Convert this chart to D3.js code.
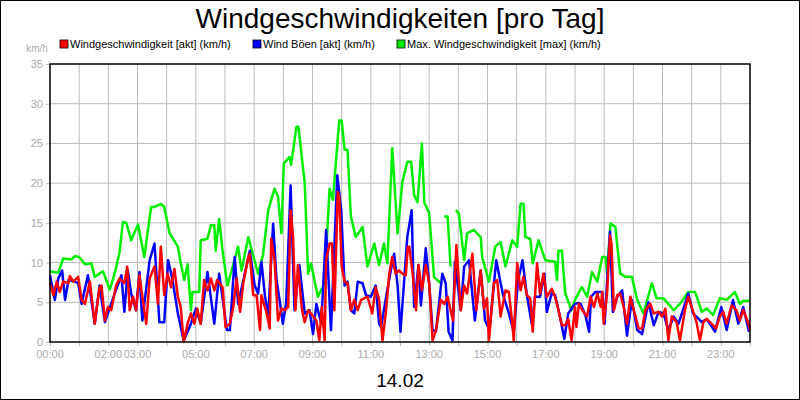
<!DOCTYPE html>
<html>
<head>
<meta charset="utf-8">
<script src="https://cdn.jsdelivr.net/npm/d3@7"></script>
<style>
  body { margin: 0; background: #fff; }
  svg { font-family: "Liberation Sans", Arial, sans-serif; }
</style>
</head>
<body>
<div id="chart"></div>
<script>
// minutes of day + km/h
var greenMin = [0,17,27,44,51,60,72,85,92,109,123,133,143,150,157,167,181,194,208,215,228,235,246,263,269,276,283,290,293,307,310,324,331,338,341,348,355,365,387,394,408,428,438,449,462,469,476,481,493,496,507,511,524,531,537,551,565,575,582,595,600,606,612,619,629,643,653,667,677,687,694,704,715,725,735,743,749,756,765,770,780,790,804,810,811,818,824,830,835,841,852,858,872,886,889,903,916,927,937,951,961,968,974,978,988,993,1005,1019,1039,1043,1046,1053,1060,1073,1080,1094,1105,1115,1126,1136,1143,1146,1153,1163,1173,1184,1197,1208,1221,1238,1248,1262,1272,1283,1296,1313,1327,1341,1351,1364,1378,1392,1409,1419,1426,1440];
var greenVal = [8.9,8.7,10.5,10.4,10.8,10.7,9.8,9.9,8.2,8.9,6.6,8.6,11.3,15.1,15,12.8,14.8,10.7,17,17,17.4,17,13.7,12,9.9,7.8,9.8,4,6.3,6.3,12.8,13,14.7,14.7,11.5,15.5,11.5,7.1,12,9,13.2,8.6,10.9,16.6,19.3,18.3,13.7,22.5,23.3,22.3,27.1,27.1,20,8.6,9.9,5.7,7.4,19.3,17.9,27.9,27.9,24.2,24.2,15.8,13.2,14.5,9.5,12.4,9.7,12.4,9.9,24.4,13.7,20.2,22.7,22.7,18.5,17.6,25,17.6,16.2,8.2,7.4,null,15.8,15.8,9.5,null,16.6,16.2,10.3,13.7,14.1,13.2,10.7,7.6,12,12.6,9.5,12.8,12,17.4,17.4,13.2,13,9.9,12.8,10.3,10.1,7.8,11.5,11.5,6.1,4,5.3,6.9,5.7,8.8,7.6,10.7,10.7,8.6,14.9,14.5,8.6,8.2,8.2,5.3,3.6,7.4,5.5,5.5,4.8,4,4.8,6.3,6.3,3.8,4.2,3.4,5.5,5.3,6.3,4.8,5.2,5.2];

var blueMin = [0,10,17,25,31,38,51,58,65,78,92,102,113,133,147,153,160,167,177,184,190,205,215,225,235,243,252,263,275,290,300,310,324,338,348,364,370,380,387,398,411,421,428,435,442,449,459,466,473,479,486,495,503,513,524,534,541,548,558,568,578,591,599,606,612,619,626,633,643,650,660,670,677,681,691,701,708,715,721,735,744,749,758,763,773,780,787,794,807,814,820,828,833,845,852,862,874,886,895,904,918,927,933,944,954,963,972,981,991,998,1008,1017,1022,1032,1039,1049,1058,1066,1080,1087,1092,1102,1109,1113,1122,1136,1141,1152,1158,1167,1177,1187,1197,1208,1218,1231,1242,1252,1262,1272,1283,1293,1313,1323,1341,1351,1368,1381,1392,1405,1416,1426,1438];
var blueVal = [8.4,5.3,8,9,5.3,7.8,7.6,7.4,4.8,8.4,2.3,7.1,2.5,6.1,8.4,3.8,9,6.1,4,8.8,2.7,10.3,12.4,2.5,2.5,10.3,7.8,3.6,0.2,2.3,4.2,2.3,8.8,2.3,8.6,1.5,1.5,10.7,4.8,7.8,11.5,7.1,6.1,10.1,5.9,3.2,14.9,7.8,5,2.3,5,19.7,4,9.7,3.6,4,1,4.8,2.3,14.1,1.5,21,16.6,7.1,7.6,4,3.6,7.6,7.4,5.9,5.7,7.1,2.3,1.9,5.5,9,11.1,7.1,1.3,13.2,16.6,4.4,9.7,4.6,11.8,7.4,1.5,1.3,8.6,7.4,1.3,0.2,10.1,4,9.5,10.3,2.7,9,2.7,1.5,10.3,7.4,5.7,3.6,1.3,7.8,10.3,5.9,2.3,5.7,5.7,8.6,3.8,6.1,5.9,3.2,0.4,3.6,4.8,4.9,4.8,3.2,1.3,5.7,6.3,6.3,2.3,13.9,3.8,5.7,6.5,0.8,5.3,1.5,1,5,2.1,3.8,3.6,1.5,3.2,2.3,6.1,3.6,2.5,2.9,1.3,4.4,1.5,5.3,2.3,4.4,1.3];

var redMin = [0,7,14,20,27,38,41,48,58,65,72,82,92,102,106,113,119,126,136,143,153,159,164,171,177,184,191,198,205,215,222,228,235,242,249,256,263,269,275,283,290,297,303,310,317,324,331,338,344,355,361,370,377,384,391,398,408,411,418,425,432,435,445,452,455,462,469,476,483,490,495,500,505,510,518,524,531,537,548,554,559,565,568,575,580,585,592,595,600,606,612,619,626,633,640,646,653,663,670,677,684,691,698,704,711,718,725,736,732,739,746,753,758,765,773,780,787,794,804,811,818,824,829,836,845,852,858,869,877,886,893,899,903,913,920,927,937,944,951,954,961,968,974,981,988,993,1002,1008,1015,1022,1032,1039,1046,1053,1060,1066,1073,1080,1083,1088,1095,1105,1112,1119,1126,1133,1136,1139,1146,1152,1155,1160,1167,1173,1180,1187,1194,1201,1211,1218,1225,1235,1242,1252,1259,1266,1272,1279,1289,1296,1306,1313,1320,1330,1337,1344,1351,1361,1370,1378,1385,1392,1402,1412,1419,1426,1436,1440];
var redVal = [7.4,5.9,7.6,6.3,7.6,7.4,8.3,7.6,8.2,5.3,4.8,7.6,2.3,6.9,7.1,2.7,4.4,4,7.1,8,7.4,9.5,4,5.7,4,8.4,5.3,2.3,8,9.5,4.8,12,5.9,8.6,6.9,9.2,5.7,4.4,0,2.3,3.6,2.3,4.2,2.3,7.8,6.5,8,6.5,7.8,6.9,1.9,2.3,4.4,8,3.8,7.6,10.7,11.1,5.9,5.9,1.5,5.9,3.8,1.7,13,10.3,2.7,4.2,4,4.4,16.6,13.2,4,9.7,4.2,2.5,4,3.6,2.7,0.2,4.4,0.2,10.3,12.4,12.4,4,18.9,18.3,9.5,7.6,7.4,4,5.3,4,5.3,5.5,5.7,3.6,6.9,5.3,0.2,3.8,8.6,10.7,8.6,9,8.6,12,8.4,12,8.6,4,9.7,6.5,9.7,7.4,0.2,1.5,5.3,4.8,5.7,4,2.7,12.2,4,7.1,6.1,11.1,4,9,4.2,5.5,0.2,7.4,7.8,3.2,6.5,6.3,2.3,0.2,9.9,6.5,8.2,5.9,5.5,1.3,9.9,6.1,8.6,5.7,6.7,5.7,4,2.1,2.1,2.9,0.2,4.4,1.9,4.8,4,3.2,5.7,4.4,6.1,4.4,6.3,2.3,6.1,13.4,12.4,4,5.9,6.1,4.4,2.3,5.7,4,1.7,1.7,4,4.8,3.6,3.8,3.2,4.2,0.2,3.2,2.5,0.2,4,5.7,4.4,2.5,0.2,2.5,2.9,2.3,1.7,3.2,3.8,2.3,4.6,4,2.7,4,2.5,1.5];

var yTicks = [0, 5, 10, 15, 20, 25, 30, 35];
var xLabelHours = [0, 2, 3, 5, 7, 9, 11, 13, 15, 17, 19, 21, 23];
var seriesNames = ["Windgeschwindigkeit [akt] (km/h)", "Wind Böen [akt] (km/h)", "Max. Windgeschwindigkeit [max] (km/h)"];
var seriesColors = ["#ff0000", "#0000ff", "#00ee00"];

var W = 800, H = 400;
var margin = {top: 64, right: 50, bottom: 58, left: 50};
var width = W - margin.left - margin.right;
var height = H - margin.top - margin.bottom;

var svg = d3.select("#chart").append("svg").attr("width", W).attr("height", H);
svg.append("rect").attr("x", 0.5).attr("y", 0.5).attr("width", W - 1).attr("height", H - 1)
  .attr("fill", "#fff").attr("stroke", "#000");

svg.append("text").attr("x", W / 2).attr("y", 28).attr("text-anchor", "middle")
  .attr("font-size", 28).text("Windgeschwindigkeiten [pro Tag]");
svg.append("text").attr("x", W / 2).attr("y", 387).attr("text-anchor", "middle")
  .attr("font-size", 19).text("14.02");

var g = svg.append("g").attr("transform", "translate(" + margin.left + "," + margin.top + ")");
var x = d3.scaleLinear().domain([0, 1440]).range([0, width]);
var y = d3.scaleLinear().domain([0, 35]).range([height, 0]);

// grid
g.append("g").selectAll("line").data(d3.range(1, 24)).join("line")
  .attr("x1", d => x(d * 60)).attr("x2", d => x(d * 60)).attr("y1", 0).attr("y2", height)
  .attr("stroke", "#bbb");
g.append("g").selectAll("line").data(yTicks.slice(1, -1)).join("line")
  .attr("x1", 0).attr("x2", width).attr("y1", d => y(d)).attr("y2", d => y(d))
  .attr("stroke", "#bbb");

// axes
var yAxis = g.append("g").call(d3.axisLeft(y).tickValues(yTicks).tickSize(4).tickPadding(3));
yAxis.select(".domain").remove();
yAxis.selectAll("line").attr("stroke", "#bbb");
yAxis.selectAll("text").attr("fill", "#aaa").attr("font-size", 11).attr("font-family", "Liberation Sans, Arial");

var xAxis = g.append("g").attr("transform", "translate(0," + height + ")")
  .call(d3.axisBottom(x).tickValues(d3.range(0, 25).map(h => h * 60)).tickSize(4).tickFormat(""));
xAxis.select(".domain").remove();
xAxis.selectAll("line").attr("stroke", "#bbb");
g.append("g").selectAll("text").data(xLabelHours).join("text")
  .attr("x", d => x(d * 60)).attr("y", height + 16).attr("text-anchor", "middle")
  .attr("fill", "#aaa").attr("font-size", 11)
  .text(d => d3.format("02")(d) + ":00");

svg.append("text").attr("x", 37).attr("y", 52).attr("text-anchor", "middle")
  .attr("fill", "#aaa").attr("font-size", 10).text("km/h");

// lines
var line = d3.line().defined(d => d[1] != null).x(d => x(d[0])).y(d => y(d[1]));
var series = [
  {m: greenMin, v: greenVal, c: seriesColors[2]},
  {m: blueMin, v: blueVal, c: seriesColors[1]},
  {m: redMin, v: redVal, c: seriesColors[0]}
];
series.forEach(function(s) {
  var pts = s.m.map((m, i) => [m, s.v[i]]).sort((a, b) => a[0] - b[0]);
  g.append("path").datum(pts).attr("fill", "none").attr("stroke", s.c)
    .attr("stroke-width", 2.5).attr("stroke-linejoin", "round").attr("d", line);
});

g.append("rect").attr("width", width).attr("height", height).attr("fill", "none")
  .attr("stroke", "#000").attr("stroke-width", 1.5);

// legend
var legX = [60, 253, 397];
seriesNames.forEach(function(n, i) {
  svg.append("rect").attr("x", legX[i]).attr("y", 40).attr("width", 8).attr("height", 8)
    .attr("fill", seriesColors[i]).attr("stroke", "#000").attr("stroke-width", 0.8);
  svg.append("text").attr("x", legX[i] + 10).attr("y", 48).attr("font-size", 11).text(n);
});
</script>
</body>
</html>
